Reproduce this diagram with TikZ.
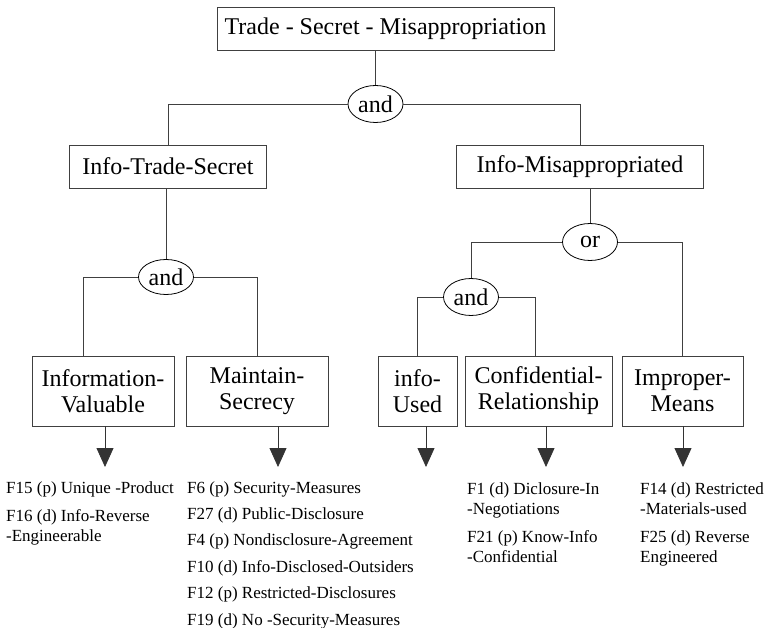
\documentclass[tikz,border=0pt]{standalone}
\usepackage{fontspec}
\setmainfont{Liberation Serif}
\usetikzlibrary{shapes.geometric,arrows.meta}
\begin{document}
\begin{tikzpicture}[x=1pt,y=-1pt,
	box/.style={draw=black!75,line width=0.8pt,inner sep=0pt,align=center,font=\fontsize{24}{26}\selectfont},
	gate/.style={draw=black,ellipse,line width=0.8pt,inner sep=0pt,minimum width=55pt,minimum height=37pt,font=\fontsize{24}{26}\selectfont},
	link/.style={draw=black!75,line width=0.8pt},
	arr/.style={draw=black!80,line width=0.8pt,-{Triangle[width=17pt,length=19pt]}},
	factor/.style={anchor=base west,inner sep=0pt,font=\fontsize{17}{20}\selectfont}]
	\useasboundingbox (0,0) rectangle (768,628);
	\node[box,minimum width=337pt,minimum height=43pt] (tsm) at (385.5,28.5) {Trade - Secret - Misappropriation};
	\node[box,minimum width=197pt,minimum height=43pt] (its) at (168,166.5) {Info-Trade-Secret};
	\node[box,minimum width=247pt,minimum height=43pt] (ima) at (580,166.5) {Info-Misappropriated};
	\node[box,minimum width=142pt,minimum height=70pt] (iv) at (103,391) {Information-\\Valuable};
	\node[box,minimum width=142pt,minimum height=70pt] (ms) at (257,391) {Maintain-\\Secrecy};
	\node[box,minimum width=79pt,minimum height=70pt] (iu) at (417.5,391) {info-\\Used};
	\node[box,minimum width=147pt,minimum height=70pt] (cr) at (538.5,391) {Confidential-\\Relationship};
	\node[box,minimum width=121pt,minimum height=70pt] (im) at (682.5,391) {Improper-\\Means};
	\node[gate] (andtop) at (375.5,104) {and};
	\node[gate,minimum height=35pt] (andts) at (166,277) {and};
	\node[gate] (ormis) at (590,242) {or};
	\node[gate] (andmis) at (471,297) {and};
	\draw[link] (andtop.north) -- (andtop.north |- tsm.south);
	\draw[link] (andtop.west) -| (its.north);
	\draw[link] (andtop.east) -| (ima.north);
	\draw[link] (andts.north) -- (andts.north |- its.south);
	\draw[link] (andts.west) -| ([xshift=-20pt]iv.north);
	\draw[link] (andts.east) -| (ms.north);
	\draw[link] (ormis.north) -- (ormis.north |- ima.south);
	\draw[link] (ormis.west) -| (andmis.north);
	\draw[link] (ormis.east) -| (im.north);
	\draw[link] (andmis.west) -| (iu.north);
	\draw[link] (andmis.east) -| ([xshift=-3pt]cr.north);
	\coordinate (tiv) at (105,467);
	\coordinate (tms) at (278,467);
	\coordinate (tiu) at (426,467);
	\coordinate (tcr) at (546,467);
	\coordinate (tim) at (683,467);
	\draw[arr] (iv.south -| tiv) -- (tiv);
	\draw[arr] (ms.south -| tms) -- (tms);
	\draw[arr] (iu.south -| tiu) -- (tiu);
	\draw[arr] (cr.south -| tcr) -- (tcr);
	\draw[arr] (im.south -| tim) -- (tim);
	\foreach \y/\t [count=\i] in {493/F15 (p) Unique -Product,521/F16 (d) Info-Reverse,541/-Engineerable}
		\node[factor] (fiv\i) at (6,\y) {\t};
	\foreach \y/\t [count=\i] in {493/F6 (p) Security-Measures,519.4/F27 (d) Public-Disclosure,545.8/F4 (p) Nondisclosure-Agreement,572.2/F10 (d) Info-Disclosed-Outsiders,598.6/F12 (p) Restricted-Disclosures,625/F19 (d) No -Security-Measures}
		\node[factor] (fms\i) at (187,\y) {\t};
	\foreach \y/\t [count=\i] in {494/F1 (d) Diclosure-In,514/-Negotiations,542/F21 (p) Know-Info,562/-Confidential}
		\node[factor] (fcr\i) at (467,\y) {\t};
	\foreach \y/\t [count=\i] in {494/F14 (d) Restricted,514/-Materials-used,542/F25 (d) Reverse,562/Engineered}
		\node[factor] (fim\i) at (640,\y) {\t};
\end{tikzpicture}
\end{document}
